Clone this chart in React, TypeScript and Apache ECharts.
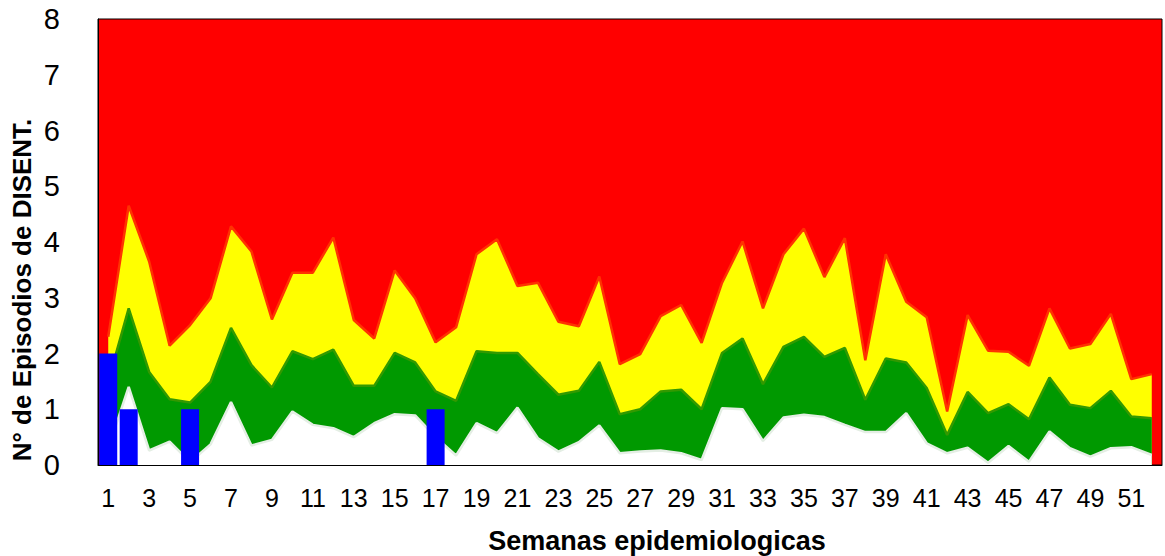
import React, { useEffect, useRef } from "react";
import * as echarts from "echarts";

const weeks: string[] = Array.from({ length: 52 }, (_, i) => String(i + 1));

// upper limit of the "éxito" zone (white)
const exito: number[] = [
  0.3, 1.4, 0.26, 0.42, 0.05, 0.37, 1.13, 0.35, 0.45, 0.96,
  0.72, 0.66, 0.5, 0.75, 0.91, 0.89, 0.5, 0.17, 0.75, 0.57,
  1.03, 0.48, 0.24, 0.41, 0.71, 0.21, 0.24, 0.26, 0.21, 0.09,
  1.02, 1.0, 0.43, 0.85, 0.9, 0.86, 0.72, 0.59, 0.59, 0.93,
  0.39, 0.21, 0.31, 0.04, 0.34, 0.06, 0.6, 0.3, 0.15, 0.3,
  0.32, 0.18,
];

// upper limit of the "seguridad" zone (green)
const seguridad: number[] = [
  1.5, 2.81, 1.67, 1.18, 1.12, 1.49, 2.46, 1.79, 1.39, 2.04,
  1.9, 2.07, 1.42, 1.42, 2.01, 1.84, 1.32, 1.15, 2.04, 2.01,
  2.01, 1.63, 1.26, 1.33, 1.85, 0.91, 1.0, 1.32, 1.35, 1.0,
  2.01, 2.27, 1.45, 2.12, 2.3, 1.94, 2.1, 1.17, 1.91, 1.84,
  1.38, 0.54, 1.31, 0.93, 1.09, 0.82, 1.57, 1.08, 1.02, 1.33,
  0.87, 0.84,
];

// upper limit of the "alerta" zone (yellow)
const alerta: number[] = [
  2.3, 4.65, 3.65, 2.14, 2.51, 2.99, 4.28, 3.83, 2.61, 3.45,
  3.45, 4.08, 2.6, 2.27, 3.49, 2.99, 2.2, 2.47, 3.78, 4.05,
  3.21, 3.27, 2.57, 2.49, 3.38, 1.81, 1.99, 2.67, 2.87, 2.19,
  3.27, 4.01, 2.81, 3.78, 4.24, 3.37, 4.07, 1.88, 3.78, 2.93,
  2.65, 0.96, 2.69, 2.05, 2.03, 1.78, 2.81, 2.09, 2.17, 2.71,
  1.54, 1.63,
];

// observed episodes
const casos: (number | null)[] = [
  2, 1, null, null, 1, null, null, null, null, null,
  null, null, null, null, null, null, 1, null, null, null,
  null, null, null, null, null, null, null, null, null, null,
  null, null, null, null, null, null, null, null, null, null,
  null, null, null, null, null, null, null, null, null, null,
  null, null,
];

const yTicks = { min: 0, max: 8, interval: 1 };
const xTitle = "Semanas epidemiologicas";
const yTitle = "N° de Episodios de DISENT.";

const FONT = '"Liberation Sans", Arial, sans-serif';

export default function App() {
  const ref = useRef<HTMLDivElement>(null);
  useEffect(() => {
    document.body.style.margin = "0";
    if (!ref.current) return;
    const chart = echarts.init(ref.current, null, { renderer: "svg" });
    chart.setOption({
      animation: false,
      grid: {
        left: 98,
        right: 3,
        top: 19,
        bottom: 91,
        show: true,
        backgroundColor: "#ff0000",
        borderColor: "#000000",
        borderWidth: 1,
        z: 0,
      },
      xAxis: {
        type: "category",
        data: weeks,
        boundaryGap: true,
        axisLine: { show: true, lineStyle: { color: "#000", width: 1 } },
        axisTick: { show: false },
        axisLabel: {
          interval: 1,
          margin: 20,
          color: "#000",
          fontSize: 25,
          fontFamily: FONT,
        },
        splitLine: { show: false },
      },
      yAxis: {
        type: "value",
        min: yTicks.min,
        max: yTicks.max,
        interval: yTicks.interval,
        axisLine: { show: true, lineStyle: { color: "#000", width: 1 } },
        axisTick: { show: false },
        axisLabel: {
          margin: 38,
          color: "#000",
          fontSize: 29,
          fontFamily: FONT,
        },
        splitLine: { show: false },
      },
      graphic: [
        {
          type: "text",
          x: 22,
          y: 290,
          rotation: Math.PI / 2,
          style: {
            text: yTitle,
            font: `bold 26px ${FONT}`,
            fill: "#000",
            textAlign: "center",
            textVerticalAlign: "middle",
          },
        },
        {
          type: "text",
          x: 657,
          y: 541,
          style: {
            text: xTitle,
            font: `bold 27px ${FONT}`,
            fill: "#000",
            textAlign: "center",
            textVerticalAlign: "middle",
          },
        },
      ],
      series: [
        {
          name: "Alerta",
          type: "line",
          data: alerta,
          symbol: "none",
          lineStyle: { color: "#ff3300", width: 2.5 },
          areaStyle: { color: "#ffff00", opacity: 1 },
          z: 2,
        },
        {
          name: "Seguridad",
          type: "line",
          data: seguridad,
          symbol: "none",
          lineStyle: { color: "#339900", width: 2.5 },
          areaStyle: { color: "#009900", opacity: 1 },
          z: 3,
        },
        {
          name: "Éxito",
          type: "line",
          data: exito,
          symbol: "none",
          lineStyle: { color: "#e4eee4", width: 2.5 },
          areaStyle: { color: "#ffffff", opacity: 1 },
          z: 4,
        },
        {
          name: "Casos",
          type: "bar",
          data: casos,
          barWidth: "88%",
          itemStyle: { color: "#0000ff" },
          z: 5,
        },
      ],
    });
    return () => chart.dispose();
  }, []);
  return <div ref={ref} style={{ width: 1165, height: 556 }} />;
}
